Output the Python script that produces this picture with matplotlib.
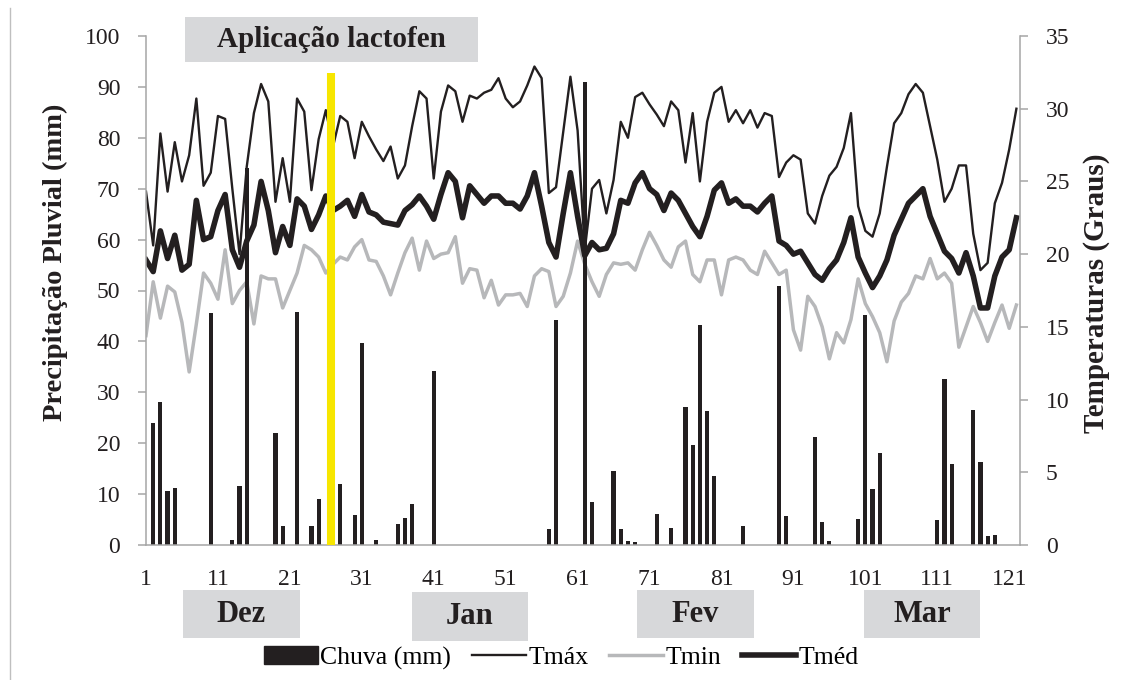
import numpy as np
import matplotlib
matplotlib.use("Agg")
import matplotlib.pyplot as plt
from matplotlib.patches import Rectangle
from matplotlib.lines import Line2D

plt.rcParams['font.family'] = ['Liberation Serif', 'DejaVu Serif']

days = np.arange(1, 123)

rain_days = [2, 3, 4, 5, 10, 13, 14, 15, 19, 20, 22, 24, 25, 28, 30, 31, 33, 36, 37, 38,
             41, 57, 58, 62, 63, 66, 67, 68, 69, 72, 74, 76, 77, 78, 79, 80, 84, 89, 90,
             94, 95, 96, 100, 101, 102, 103, 111, 112, 113, 116, 117, 118, 119]
rain_mm = [24.0, 28.1, 10.6, 11.2, 45.6, 1.0, 11.6, 74.0, 22.1, 3.7, 45.8, 3.7, 9.1, 12.0,
           5.9, 39.7, 1.0, 4.1, 5.3, 8.0, 34.1, 3.1, 44.2, 91.0, 8.4, 14.5, 3.1, 0.8, 0.5,
           6.1, 3.3, 27.2, 19.6, 43.2, 26.3, 13.6, 3.7, 50.8, 5.6, 21.2, 4.6, 0.7, 5.2,
           45.2, 11.1, 18.0, 4.9, 32.7, 15.9, 26.5, 16.4, 1.8, 2.0]

tmax = [24.3, 20.6, 28.3, 24.3, 27.7, 25.0, 26.8, 30.7, 24.7, 25.6,
        29.5, 29.3, 24.5, 20.0, 26.0, 29.7, 31.7, 30.5, 23.6, 26.6,
        23.6, 30.7, 29.8, 24.4, 27.9, 29.9, 27.4, 29.5, 29.1, 26.6,
        29.1, 28.1, 27.2, 26.4, 27.4, 25.2, 26.1, 28.8, 31.2, 30.7,
        25.2, 29.8, 31.6, 31.2, 29.1, 30.9, 30.7, 31.1, 31.3, 32.1,
        30.7, 30.1, 30.5, 31.6, 32.9, 32.1, 24.2, 24.6, 28.4, 32.2,
        28.5, 20.3, 24.5, 25.1, 22.8, 25.1, 29.1, 28.0, 30.8, 31.1,
        30.3, 29.6, 28.8, 30.5, 29.9, 26.3, 29.7, 25.0, 29.1, 31.1,
        31.5, 29.1, 29.9, 29.0, 29.9, 28.7, 29.7, 29.5, 25.3, 26.3,
        26.8, 26.5, 22.8, 22.1, 24.0, 25.4, 26.0, 27.3, 29.7, 23.3,
        21.6, 21.2, 22.8, 26.0, 29.0, 29.7, 31.0, 31.7, 31.1, 28.8,
        26.5, 23.6, 24.5, 26.1, 26.1, 21.4, 18.9, 19.4, 23.5, 24.9,
        27.2, 30.0]

tmin = [14.4, 18.1, 15.6, 17.8, 17.4, 15.3, 11.9, 15.2, 18.7, 18.0,
        16.9, 20.3, 16.6, 17.5, 18.1, 15.2, 18.5, 18.3, 18.3, 16.3,
        17.5, 18.7, 20.6, 20.3, 19.8, 18.7, 19.3, 19.8, 19.6, 20.5,
        21.0, 19.6, 19.5, 18.5, 17.2, 18.7, 20.1, 21.1, 18.9, 20.9,
        19.7, 20.0, 20.1, 21.2, 18.0, 19.0, 18.9, 17.0, 18.2, 16.5,
        17.2, 17.2, 17.3, 16.4, 18.5, 19.0, 18.8, 16.4, 17.1, 18.7,
        20.9, 19.3, 18.1, 17.1, 18.6, 19.4, 19.3, 19.4, 18.9, 20.3,
        21.5, 20.6, 19.6, 19.1, 20.5, 20.9, 18.6, 18.1, 19.6, 19.6,
        17.2, 19.6, 19.8, 19.6, 18.9, 18.6, 20.2, 19.4, 18.6, 18.9,
        14.8, 13.4, 17.1, 16.4, 15.0, 12.8, 14.6, 13.9, 15.5, 18.3,
        16.6, 15.7, 14.6, 12.6, 15.4, 16.7, 17.3, 18.5, 18.3, 19.7,
        18.3, 18.7, 18.0, 13.6, 15.0, 16.4, 15.3, 14.0, 15.3, 16.5,
        14.9, 16.5]

tmed = [19.6, 18.8, 21.6, 19.7, 21.3, 18.9, 19.3, 23.7, 21.0, 21.2,
        23.0, 24.1, 20.3, 19.1, 20.9, 22.0, 25.0, 23.0, 20.1, 21.9,
        20.6, 23.8, 23.3, 21.7, 22.7, 24.0, 23.0, 23.3, 23.7, 22.6,
        24.1, 22.9, 22.7, 22.2, 22.1, 22.0, 23.0, 23.4, 24.0, 23.3,
        22.4, 24.1, 25.6, 25.0, 22.5, 24.7, 24.1, 23.5, 24.0, 24.0,
        23.5, 23.5, 23.1, 24.0, 25.6, 23.3, 20.8, 19.8, 22.8, 25.6,
        22.6, 19.9, 20.8, 20.3, 20.4, 21.4, 23.7, 23.5, 24.9, 25.6,
        24.5, 24.1, 23.0, 24.2, 23.7, 22.8, 21.9, 21.2, 22.6, 24.4,
        24.9, 23.5, 23.8, 23.3, 23.3, 22.9, 23.5, 24.0, 20.9, 20.6,
        20.0, 20.2, 19.4, 18.6, 18.2, 19.0, 19.6, 20.8, 22.5, 19.8,
        18.7, 17.7, 18.5, 19.6, 21.3, 22.4, 23.5, 24.0, 24.5, 22.6,
        21.4, 20.2, 19.7, 18.7, 20.1, 18.5, 16.3, 16.3, 18.5, 19.8,
        20.3, 22.5]

x_ticks = [1, 11, 21, 31, 41, 51, 61, 71, 81, 91, 101, 111, 121]
months = ["Dez", "Jan", "Fev", "Mar"]
application_day = 26.7

BLACK = "#231f20"
GRAY = "#b7b8ba"
AXIS = "#a6a6a6"
BOX = "#d7d8da"

W, H = 1134, 680
fig = plt.figure(figsize=(W / 100, H / 100), dpi=100)
ax = fig.add_axes([146 / W, 135 / H, 874 / W, 509 / H])
ax2 = ax.twinx()

ax.bar(rain_days, rain_mm, width=0.58, color=BLACK, zorder=2)
ax2.plot(days, tmax, color=BLACK, lw=1.7)
ax2.plot(days, tmin, color=GRAY, lw=2.5)
ax2.plot(days, tmed, color=BLACK, lw=4.0)
ax.plot([application_day, application_day], [0, 92.8], color="#f7e600", lw=5.8,
        solid_capstyle="butt", zorder=10, clip_on=False)
ax.set_zorder(ax2.get_zorder() + 1)
ax.patch.set_visible(False)

ax.set_xlim(1, 122.5)
ax.set_ylim(0, 100)
ax2.set_ylim(0, 35)
ax.set_yticks(range(0, 101, 10))
ax2.set_yticks(range(0, 36, 5))
ax.set_xticks(x_ticks)

for a in (ax, ax2):
    a.spines["top"].set_visible(False)
    for s in ("left", "right", "bottom"):
        a.spines[s].set_color(AXIS)
        a.spines[s].set_linewidth(1.1)
ax.spines["right"].set_visible(False)
ax2.spines["left"].set_visible(False)
ax2.spines["bottom"].set_visible(False)

ax.tick_params(axis="x", length=0, pad=17, labelsize=17, labelcolor=BLACK)
ax.tick_params(axis="y", length=5.5, width=1.1, color=AXIS, pad=13, labelsize=17,
               labelcolor=BLACK)
ax2.tick_params(axis="y", length=5.5, width=1.1, color=AXIS, pad=13, labelsize=17,
                labelcolor=BLACK)

ax.set_ylabel("Precipitação Pluvial (mm)", fontsize=20.5, fontweight="bold", color=BLACK)
ax.yaxis.set_label_coords(-0.089, 0.556)
ax2.set_ylabel("Temperaturas (Graus)", fontsize=21, fontweight="bold", color=BLACK,
               rotation=90)
ax2.yaxis.set_label_coords(1.072, 0.495)


def label_box(x0, y0, x1, y1, text, size):
    fig.patches.append(Rectangle((x0 / W, 1 - y1 / H), (x1 - x0) / W, (y1 - y0) / H,
                                 transform=fig.transFigure, facecolor=BOX,
                                 edgecolor="none"))
    fig.text((x0 + x1) / 2 / W, 1 - (y0 + y1) / 2 / H, text, ha="center", va="center",
             fontsize=size, fontweight="bold", color=BLACK)


label_box(185, 17, 478, 62, "Aplicação lactofen", 21)
month_boxes = [(183, 590, 300, 638), (412, 592, 528, 641), (637, 590, 754, 638),
               (864, 590, 980, 638)]
for (x0, y0, x1, y1), m in zip(month_boxes, months):
    label_box(x0, y0, x1, y1, m, 22)

fig.add_artist(Line2D([10 / W, 10 / W], [0, 1 - 8 / H], transform=fig.transFigure,
                      color="#bfbfbf", lw=1))

handles = [Rectangle((0, 0), 1, 1, color=BLACK),
           Line2D([], [], color=BLACK, lw=1.7),
           Line2D([], [], color=GRAY, lw=2.5),
           Line2D([], [], color=BLACK, lw=4.0)]
fig.legend(handles, ["Chuva (mm)", "Tmáx", "Tmin", "Tméd"], loc="center",
           bbox_to_anchor=(561 / W, 1 - 658 / H), ncol=4, frameon=False, fontsize=18.5,
           handlelength=2.1, handletextpad=0.1, columnspacing=0.8)

fig.savefig("out.png", dpi=100)
